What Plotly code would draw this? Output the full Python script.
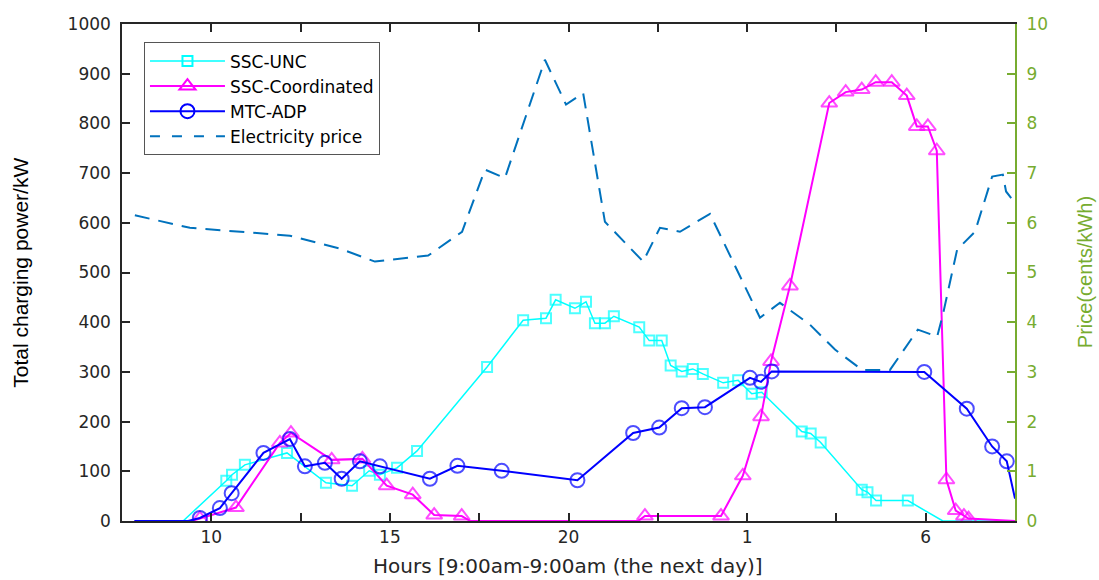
import plotly.graph_objects as go

# Hour of day (values past 24 belong to the next morning)
unc_hours = [7.85, 9.21, 10.42, 10.58, 10.94, 12.12, 13.21, 13.94, 14.42, 14.72,
             15.2, 15.76, 17.72, 18.73, 19.37, 19.64, 20.18, 20.49, 20.74, 21.02,
             21.27, 21.98, 22.26, 22.61, 22.86, 23.17, 23.48, 23.76, 24.33, 24.75,
             25.13, 25.41, 26.53, 26.78, 27.06, 28.21, 28.37, 28.61, 29.5, 30.48, 32.5]
unc_power = [0, 0, 81, 93, 113, 137, 77, 71, 101, 93,
             107, 141, 310, 404, 408, 445, 428, 441, 398, 398,
             412, 390, 363, 363, 313, 301, 306, 296, 278, 283,
             256, 259, 180, 176, 158, 63, 58, 41, 41, 0, 0]

coord_hours = [7.85, 9.45, 9.68, 10.69, 11.92, 12.23, 13.37, 14.23, 14.91, 15.64,
               16.24, 17.01, 17.25, 21.95, 22.14, 24.27, 24.88, 25.39, 25.67, 26.2,
               27.3, 27.76, 28.21, 28.6, 29.05, 29.47, 29.75, 30.06, 30.31, 30.58,
               30.84, 31.07, 31.2, 32.5]
coord_power = [0, 0, 5, 27, 157, 177, 123, 125, 71, 53,
               12, 10, 0, 0, 10, 10, 91, 210, 321, 473,
               841, 863, 868, 883, 883, 856, 794, 794, 745, 83,
               21, 10, 5, 0]

adp_hours = [7.85, 9.35, 9.68, 10.24, 10.57, 11.46, 12.2, 12.62, 13.18, 13.65,
             14.16, 14.72, 16.12, 16.89, 18.13, 20.25, 21.81, 22.54, 23.17, 23.82,
             25.08, 25.39, 25.69, 29.96, 31.15, 31.86, 32.27, 32.5]
adp_power = [0, 0, 6, 26, 56, 137, 165, 110, 117, 85,
             120, 110, 85, 111, 101, 82, 177, 188, 227, 229,
             288, 280, 301, 300, 226, 150, 120, 45]

price_hours = [7.86, 9.4, 12.2, 13.6, 14.58, 16.07, 17.02, 17.66, 18.22, 19.34,
               19.93, 20.41, 21.02, 22.09, 22.56, 23.12, 23.96, 25.36, 25.92, 26.76,
               27.46, 28.22, 29.0, 29.78, 30.32, 30.48, 30.88, 31.38, 31.86, 32.16,
               32.25, 32.5]
price = [6.15, 5.9, 5.74, 5.48, 5.22, 5.34, 5.82, 7.07, 6.9, 9.28,
         8.38, 8.61, 6.02, 5.22, 5.9, 5.82, 6.18, 4.09, 4.39, 3.95,
         3.45, 3.04, 3.04, 3.85, 3.71, 4.15, 5.46, 5.82, 6.93, 6.97,
         6.63, 6.4]

x_tickvals = [10, 12.5, 15, 17.5, 20, 22.5, 25, 27.5, 30]
x_ticktext = ["10", "", "15", "", "20", "", "1", "", "6"]

X_RANGE = [7.5, 32.5]
INK = "#262626"
GREEN = "#77AC30"


def marker_sizes(hours, values, size):
    # markers only on charging samples that fall inside the visible window
    return [size if (v > 0 and h < X_RANGE[1] - 0.01) else 0
            for h, v in zip(hours, values)]


series = [
    ("SSC-UNC", unc_hours, unc_power, "#00FFFF", 1.5, "square-open", 10),
    ("SSC-Coordinated", coord_hours, coord_power, "#FF00FF", 2, "triangle-up-open", 14),
    ("MTC-ADP", adp_hours, adp_power, "#0000FF", 2, "circle-open", 14),
]

fig = go.Figure()

for name, hrs, vals, color, lw, symbol, size in series:
    fig.add_trace(go.Scatter(
        x=hrs, y=vals, name=name, mode="lines+markers", showlegend=False,
        line=dict(color=color, width=lw),
        marker=dict(symbol=symbol, size=marker_sizes(hrs, vals, size),
                    color=color, line=dict(width=2, color=color)),
    ))

fig.add_trace(go.Scatter(
    x=price_hours, y=price, name="Electricity price", mode="lines", yaxis="y2",
    showlegend=False,
    line=dict(color="#0072BD", width=2, dash="15px,9px"),
))

# legend entries (one sample marker in the middle of each key line)
for name, hrs, vals, color, lw, symbol, size in series:
    fig.add_trace(go.Scatter(
        x=[None], y=[None], name=name, mode="lines+markers",
        line=dict(color=color, width=lw),
        marker=dict(symbol=symbol, size=size, color=color,
                    line=dict(width=2, color=color)),
    ))
fig.add_trace(go.Scatter(
    x=[None], y=[None], name="Electricity price", mode="lines", yaxis="y2",
    line=dict(color="#0072BD", width=2, dash="10px,12px"),
))

axis_font = dict(family="DejaVu Sans", size=17, color=INK)

fig.update_layout(
    width=1099, height=580,
    margin=dict(l=122, r=84, t=24, b=59),
    paper_bgcolor="white", plot_bgcolor="white",
    showlegend=True,
    legend=dict(
        x=0.0246, y=0.963, xanchor="left", yanchor="top",
        bgcolor="white", bordercolor="#555555", borderwidth=1,
        font=dict(family="DejaVu Sans", size=17, color="#000000"),
        itemwidth=75, itemsizing="trace", tracegroupgap=0,
    ),
    xaxis=dict(
        range=X_RANGE, tickvals=x_tickvals, ticktext=x_ticktext,
        ticks="inside", ticklen=8, tickwidth=1.5, tickcolor=INK,
        showline=True, linecolor=INK, linewidth=1.5, mirror="ticks",
        showgrid=False, zeroline=False, tickfont=axis_font,
    ),
    yaxis=dict(
        range=[0, 1000], tickvals=list(range(0, 1001, 100)),
        ticks="inside", ticklen=8, tickwidth=1.5, tickcolor=INK,
        showline=True, linecolor=INK, linewidth=1.5,
        showgrid=False, zeroline=False, tickfont=axis_font,
        ticklabelstandoff=6,
    ),
    yaxis2=dict(
        range=[0, 10], tickvals=list(range(0, 11)), overlaying="y", side="right",
        ticks="inside", ticklen=8, tickwidth=1.5, tickcolor=GREEN,
        showline=True, linecolor=GREEN, linewidth=2,
        showgrid=False, zeroline=False,
        tickfont=dict(family="DejaVu Sans", size=17, color=GREEN),
        ticklabelstandoff=6,
    ),
    annotations=[
        dict(text="Hours [9:00am-9:00am (the next day)]", xref="paper", yref="paper",
             x=0.499, y=-0.091, xanchor="center", yanchor="middle", showarrow=False,
             font=dict(family="DejaVu Sans", size=20, color=INK)),
        dict(text="Total charging power/kW", xref="paper", yref="paper",
             x=-0.114, y=0.5, xanchor="center", yanchor="middle", showarrow=False,
             textangle=-90, font=dict(family="Liberation Sans", size=21, color="#000000")),
        dict(text="Price(cents/kWh)", xref="paper", yref="paper",
             x=1.078, y=0.5, xanchor="center", yanchor="middle", showarrow=False,
             textangle=-90, font=dict(family="Liberation Sans", size=20, color=GREEN)),
    ],
)

fig.write_html("out.html")
